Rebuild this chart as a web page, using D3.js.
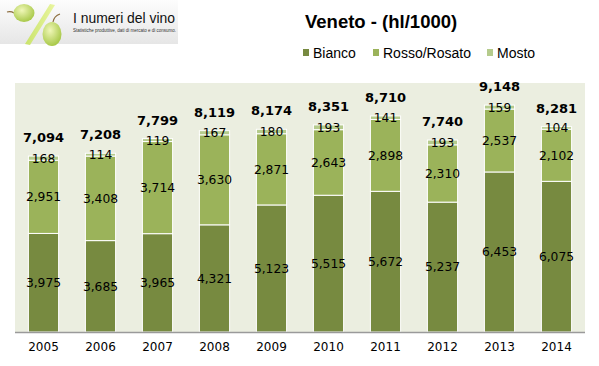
<!DOCTYPE html>
<html><head><meta charset="utf-8">
<script src="https://cdn.jsdelivr.net/npm/d3@7/dist/d3.min.js"></script>
<style>body{margin:0;background:#fff}svg{display:block}</style>
</head><body>
<script>
const years = ["2005","2006","2007","2008","2009","2010","2011","2012","2013","2014"];
const bianco = [3975,3685,3965,4321,5123,5515,5672,5237,6453,6075];
const rosso = [2951,3408,3714,3630,2871,2643,2898,2310,2537,2102];
const mosto = [168,114,119,167,180,193,141,193,159,104];
const totals = [7094,7208,7799,8119,8174,8351,8710,7740,9148,8281];
const seriesNames = ["Bianco","Rosso/Rosato","Mosto"];
const colors = ["#778a40","#9bb35a","#b5cb8c"];

const W=599,H=366;
const svg=d3.select("body").append("svg").attr("width",W).attr("height",H);
const defs=svg.append("defs");
const lg=defs.append("linearGradient").attr("id","logobg").attr("x1",0).attr("y1",0).attr("x2",0).attr("y2",1);
lg.append("stop").attr("offset","0%").attr("stop-color","#fdfdfd");
lg.append("stop").attr("offset","100%").attr("stop-color","#e6e6e6");
const gg=defs.append("radialGradient").attr("id","grape").attr("cx","40%").attr("cy","35%").attr("r","65%");
gg.append("stop").attr("offset","0%").attr("stop-color","#f0f7b8");
gg.append("stop").attr("offset","100%").attr("stop-color","#a9c94a");
const bg=defs.append("linearGradient").attr("id","barg").attr("x1",0).attr("y1",0).attr("x2",1).attr("y2",0);
bg.append("stop").attr("offset","0%").attr("stop-color","#c9e36a");
bg.append("stop").attr("offset","100%").attr("stop-color","#e9f5a0");

// logo
const logo=svg.append("g");
logo.append("rect").attr("x",0).attr("y",0).attr("width",178).attr("height",44).attr("fill","url(#logobg)");
logo.append("path").attr("d","M7,12 Q11,11 14,13").attr("stroke","#8a6a3a").attr("stroke-width",1.2).attr("fill","none");
logo.append("ellipse").attr("cx",24).attr("cy",13).attr("rx",10.5).attr("ry",9).attr("fill","url(#grape)");
logo.append("path").attr("d","M50,4 L55,5 L30,45 L25,44 Z").attr("fill","url(#barg)");
logo.append("path").attr("d","M53,22 Q54,16 60,14").attr("stroke","#8a6a3a").attr("stroke-width",1.2).attr("fill","none");
logo.append("ellipse").attr("cx",52).attr("cy",34).attr("rx",9.5).attr("ry",12).attr("fill","url(#grape)");
logo.append("text").attr("x",73).attr("y",23).attr("font-family","Liberation Sans, Arial, sans-serif").attr("font-size",14.5).attr("fill","#111")
  .attr("textLength",102).attr("lengthAdjust","spacingAndGlyphs").text("I numeri del vino");
logo.append("text").attr("x",73).attr("y",32).attr("font-family","Liberation Sans, Arial, sans-serif").attr("font-size",4.6).attr("fill","#333")
  .attr("textLength",103).attr("lengthAdjust","spacingAndGlyphs").text("Statistiche produttive, dati di mercato e di consumo.");

// title
svg.append("text").attr("x",305).attr("y",28).attr("font-family","Liberation Sans, Arial, sans-serif").attr("font-weight","bold").attr("font-size",18.5).attr("fill","#000").text("Veneto - (hl/1000)");

// legend
const legX=[303,373,487];
seriesNames.forEach((n,i)=>{
  svg.append("rect").attr("x",legX[i]).attr("y",49).attr("width",6).attr("height",7).attr("fill",colors[i]);
  svg.append("text").attr("x",legX[i]+10).attr("y",57.5).attr("font-family","Liberation Sans, Arial, sans-serif").attr("font-size",14).attr("fill","#000").text(n);
});

// plot
const x=d3.scaleBand().domain(years).range([15,585]).paddingInner(0.47).paddingOuter(0.235);
const y=d3.scaleLinear().domain([0,10000]).range([332,84]);
svg.append("rect").attr("x",15).attr("y",83).attr("width",570).attr("height",249).attr("fill","#ebeee0");

const data=years.map((yr,i)=>({year:yr,Bianco:bianco[i],"Rosso/Rosato":rosso[i],Mosto:mosto[i],total:totals[i]}));
const stack=d3.stack().keys(seriesNames)(data);
const g=svg.append("g");
stack.forEach((s,si)=>{
  g.selectAll(null).data(s).enter().append("rect")
    .attr("x",d=>x(d.data.year)).attr("width",x.bandwidth())
    .attr("y",d=>y(d[1])).attr("height",d=>y(d[0])-y(d[1]))
    .attr("fill",colors[si]).attr("stroke","#fff").attr("stroke-width",1);
});
stack.forEach((s,si)=>{
  g.selectAll(null).data(s).enter().append("text")
    .attr("x",d=>x(d.data.year)+x.bandwidth()/2)
    .attr("y",d=>(y(d[0])+y(d[1]))/2)
    .attr("dy","0.36em")
    .attr("text-anchor","middle")
    .attr("font-family","DejaVu Sans, Verdana, sans-serif").attr("font-size",12.3).attr("fill","#000")
    .text(d=>d3.format(",")(d[1]-d[0]));
});
g.selectAll(null).data(data).enter().append("text")
  .attr("x",d=>x(d.year)+x.bandwidth()/2)
  .attr("y",d=>y(d.total)-14)
  .attr("text-anchor","middle")
  .attr("font-family","DejaVu Sans, Verdana, sans-serif").attr("font-weight","bold").attr("font-size",13).attr("fill","#000")
  .text(d=>d3.format(",")(d.total));

svg.append("line").attr("x1",15).attr("x2",585).attr("y1",332.5).attr("y2",332.5).attr("stroke","#9a9a9a").attr("stroke-width",1.5);
const xa=svg.append("g").attr("transform","translate(0,332)").call(d3.axisBottom(x).tickSize(0).tickPadding(10));
xa.select(".domain").remove();
xa.selectAll("text").attr("font-family","DejaVu Sans, Verdana, sans-serif").attr("font-size",12).attr("fill","#000");
</script>
</body></html>
